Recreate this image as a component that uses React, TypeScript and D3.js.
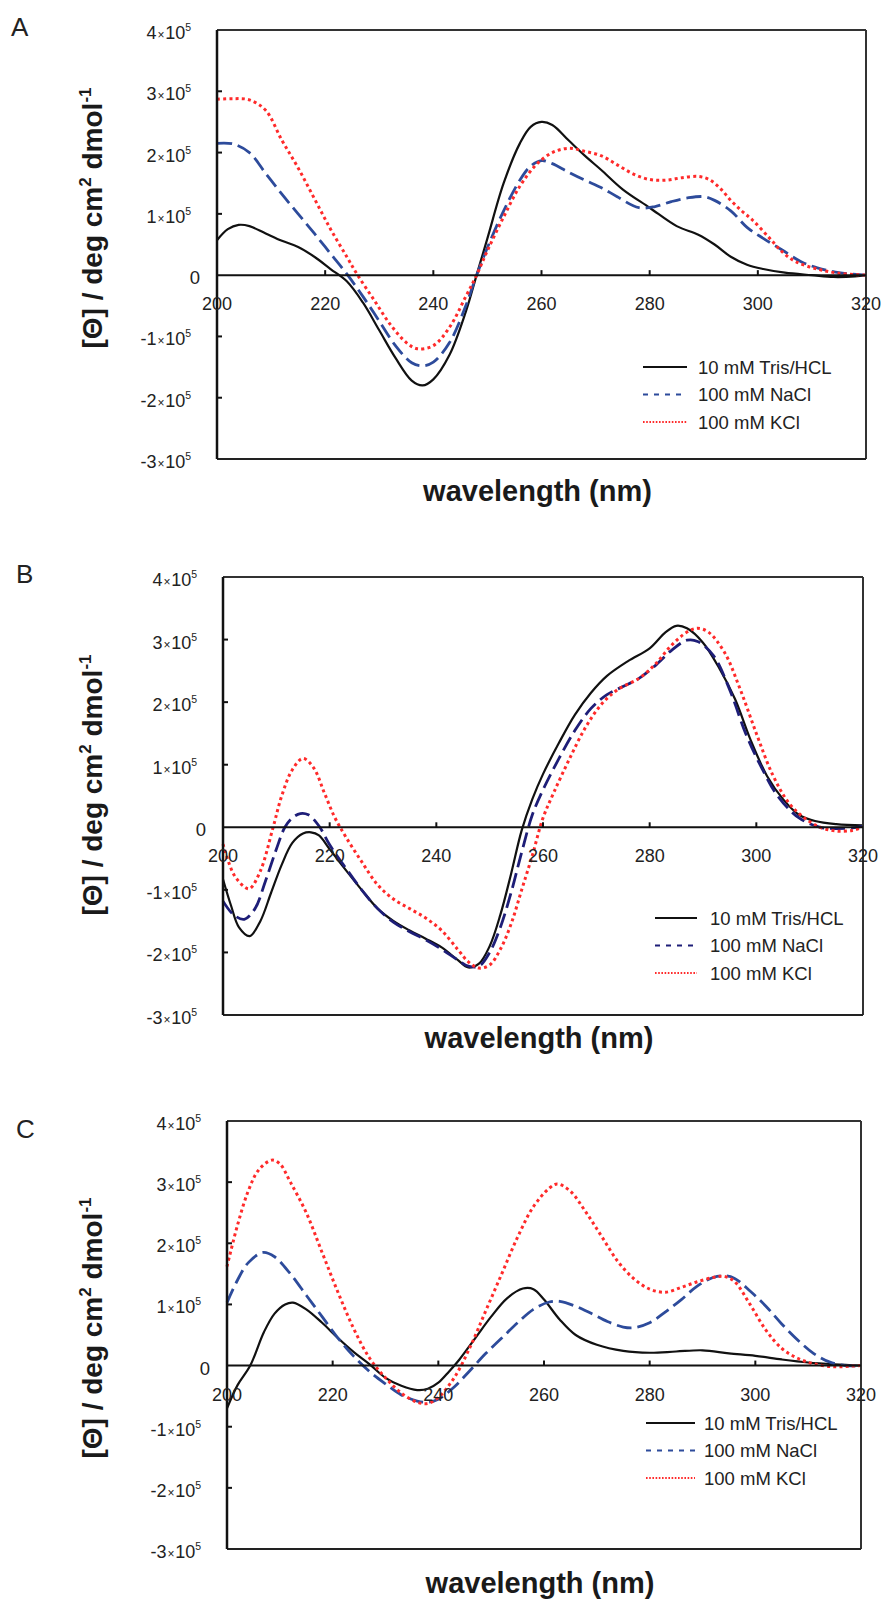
import React from 'react';
import * as d3 from 'd3';

type Pt = [number, number];

// wavelength (nm), molar ellipticity in units of 1e5 deg cm2 dmol-1
const A_TRIS: Pt[] = [[200,0.57],[202,0.75],[204,0.82],[206,0.8],[209,0.68],[212,0.56],[215,0.46],[218,0.3],[221,0.1],[224,-0.1],[227,-0.45],[230,-0.9],[233,-1.35],[236,-1.72],[238,-1.8],[240,-1.7],[243,-1.3],[246,-0.6],[248,0],[250,0.6],[253,1.5],[256,2.15],[258,2.42],[260,2.5],[262,2.45],[265,2.2],[268,1.95],[271,1.72],[275,1.4],[280,1.1],[285,0.8],[289,0.66],[292,0.5],[295,0.3],[298,0.17],[301,0.1],[305,0.04],[310,0.0],[314,-0.03],[318,-0.02],[320,0]];
const A_NACL: Pt[] = [[200,2.15],[203,2.14],[206,2.0],[209,1.66],[212,1.32],[215,1.0],[218,0.68],[221,0.35],[224,0.02],[227,-0.35],[230,-0.75],[233,-1.15],[236,-1.43],[238,-1.48],[240,-1.42],[243,-1.1],[246,-0.5],[248,0],[250,0.45],[253,1.05],[256,1.55],[258,1.78],[260,1.87],[262,1.82],[265,1.68],[268,1.55],[271,1.43],[274,1.28],[278,1.1],[281,1.12],[284,1.2],[287,1.26],[290,1.28],[292,1.22],[295,1.05],[298,0.78],[301,0.6],[304.5,0.41],[308,0.22],[311,0.12],[315,0.04],[320,0]];
const A_KCL: Pt[] = [[200,2.87],[203,2.88],[206,2.86],[209,2.69],[212,2.2],[215,1.75],[218,1.25],[221,0.75],[224,0.3],[226,0],[229,-0.4],[232,-0.8],[235,-1.1],[237,-1.2],[240,-1.15],[243,-0.85],[246,-0.35],[248,0],[250,0.4],[253,0.95],[256,1.45],[259,1.8],[262,2.0],[265,2.07],[268,2.02],[271,1.95],[274,1.8],[277,1.65],[280,1.56],[283,1.55],[286,1.59],[289,1.61],[291,1.56],[293,1.42],[295,1.22],[297,1.05],[299,0.9],[302,0.62],[304.5,0.38],[307,0.22],[311,0.1],[315,0.03],[320,0]];

const B_TRIS: Pt[] = [[200,-0.83],[201.5,-1.25],[203,-1.6],[205,-1.74],[207,-1.5],[209,-1.05],[211,-0.6],[213,-0.25],[215,-0.1],[216.5,-0.08],[218,-0.13],[220,-0.35],[223,-0.68],[226,-1.0],[229,-1.3],[232,-1.5],[235,-1.65],[238,-1.78],[241,-1.92],[244,-2.12],[246,-2.24],[248,-2.18],[250,-1.9],[252,-1.4],[254,-0.75],[256,-0.05],[258,0.45],[260,0.85],[263,1.35],[266,1.8],[269,2.15],[272,2.42],[276,2.66],[280,2.86],[283,3.12],[285,3.22],[287,3.18],[290,2.95],[293,2.55],[296,2.05],[299,1.38],[302,0.82],[305,0.45],[308,0.2],[311,0.1],[315,0.05],[320,0.03]];
const B_NACL: Pt[] = [[200,-1.18],[202,-1.4],[204,-1.47],[206,-1.3],[208,-0.85],[210,-0.35],[211.6,0],[213,0.15],[214.5,0.22],[216,0.2],[218,0.02],[220,-0.28],[223,-0.65],[226,-1.0],[229,-1.3],[232,-1.52],[235,-1.67],[238,-1.8],[241,-1.95],[244,-2.12],[246,-2.22],[248,-2.22],[250,-2.0],[252,-1.6],[254,-1.05],[256,-0.4],[258,0.2],[260,0.6],[263,1.1],[266,1.55],[269,1.9],[272,2.12],[275,2.25],[278,2.38],[281,2.58],[284,2.82],[287,2.99],[289,2.97],[292,2.74],[295,2.2],[298,1.5],[301,0.95],[304,0.5],[308,0.15],[312,0.0],[315,-0.02],[318,-0.01],[320,0.02]];
const B_KCL: Pt[] = [[200,-0.27],[202,-0.75],[204,-0.95],[205,-0.98],[207,-0.7],[209.4,0],[211,0.5],[213,0.92],[215,1.1],[217,0.95],[219,0.55],[221,0.15],[223,-0.15],[226,-0.55],[229,-0.92],[232,-1.15],[235,-1.3],[238,-1.45],[241,-1.65],[244,-1.95],[246,-2.15],[248,-2.25],[250,-2.2],[252,-1.95],[254,-1.55],[256,-1.0],[258,-0.45],[260,0.15],[262,0.55],[265,1.1],[268,1.6],[271,1.97],[274,2.2],[278,2.38],[281,2.6],[284,2.9],[287,3.12],[289,3.18],[291,3.12],[294,2.8],[297,2.2],[300,1.5],[303,0.85],[306,0.4],[309,0.15],[312,0.0],[315,-0.06],[318,-0.05],[320,0.0]];

const C_TRIS: Pt[] = [[200,-0.7],[202,-0.32],[204.4,0],[207,0.55],[209,0.85],[211,1.0],[212.5,1.03],[215,0.92],[218,0.7],[221,0.45],[224,0.22],[227,0.02],[230,-0.2],[233,-0.33],[236,-0.4],[238,-0.38],[240,-0.28],[242,-0.1],[244,0.1],[247,0.45],[250,0.8],[253,1.1],[256,1.26],[258,1.25],[260,1.08],[263,0.75],[266,0.5],[270,0.34],[275,0.24],[280,0.21],[285,0.23],[290,0.25],[295,0.2],[300,0.16],[305,0.1],[310,0.05],[315,0.02],[320,0]];
const C_NACL: Pt[] = [[200,1.03],[202,1.4],[204,1.68],[206.8,1.85],[209,1.78],[212,1.5],[215,1.15],[218,0.8],[221,0.45],[224,0.15],[227,-0.1],[230,-0.3],[233,-0.48],[236,-0.58],[238,-0.6],[240,-0.55],[243,-0.35],[246,-0.08],[249,0.2],[252,0.45],[255,0.7],[258,0.92],[261,1.04],[263,1.05],[266,0.97],[269,0.85],[272,0.72],[275,0.63],[277,0.62],[280,0.7],[283,0.88],[286,1.08],[289,1.3],[292,1.44],[294,1.47],[296,1.43],[299,1.22],[302,0.97],[305,0.68],[308.5,0.38],[311,0.2],[314,0.06],[317,0.0],[320,0]];
const C_KCL: Pt[] = [[200,1.62],[202,2.3],[204,2.85],[206,3.2],[208.5,3.36],[210,3.3],[212,3.0],[215,2.5],[218,1.85],[221,1.2],[224,0.6],[227,0.12],[230,-0.2],[233,-0.45],[236,-0.6],[238,-0.62],[240,-0.52],[243,-0.2],[246,0.3],[249,0.9],[252,1.5],[255,2.1],[258,2.6],[261,2.9],[262.5,2.97],[265,2.85],[268,2.5],[271,2.1],[274,1.7],[277,1.42],[280,1.25],[283,1.2],[286,1.28],[289,1.37],[292,1.44],[294,1.46],[296,1.38],[299,1.0],[302,0.58],[305,0.28],[308,0.12],[311,0.03],[315,-0.02],[318,-0.01],[320,0]];

const SERIES_NAMES = ['10 mM Tris/HCL', '100 mM NaCl', '100 mM KCl'];
const X_TICKS = [200, 220, 240, 260, 280, 300, 320];
const Y_TICKS = [-3, -2, -1, 0, 1, 2, 3, 4];
const X_DOMAIN: [number, number] = [200, 320];
const Y_DOMAIN: [number, number] = [-3, 4];

const FONT = '"Liberation Sans", Arial, Helvetica, sans-serif';
const RED = '#ff2a2a';

interface Panel {
  letter: string;
  letterX: number; letterY: number;
  left: number; right: number; top: number; bottom: number;
  blue: string;
  data: Pt[][];
  legX0: number; legX1: number; legTextX: number; legY0: number;
  yTitleCY: number; xTitleY: number;
}

const PANELS: Panel[] = [
  { letter: 'A', letterX: 11, letterY: 36, left: 217, right: 866, top: 30, bottom: 459, blue: '#2d4b9b',
    data: [A_TRIS, A_NACL, A_KCL], legX0: 643, legX1: 687, legTextX: 698, legY0: 367, yTitleCY: 218, xTitleY: 501 },
  { letter: 'B', letterX: 16, letterY: 583, left: 223, right: 863, top: 577, bottom: 1015, blue: '#1e1e78',
    data: [B_TRIS, B_NACL, B_KCL], legX0: 655, legX1: 697, legTextX: 710, legY0: 918, yTitleCY: 785, xTitleY: 1048 },
  { letter: 'C', letterX: 16, letterY: 1138, left: 227, right: 861, top: 1121, bottom: 1549, blue: '#2d4b9b',
    data: [C_TRIS, C_NACL, C_KCL], legX0: 646, legX1: 695, legTextX: 704, legY0: 1423, yTitleCY: 1328, xTitleY: 1593 },
];

function YTickLabel({ v, x, y }: { v: number; x: number; y: number }) {
  if (v === 0) {
    return <text x={x + 9} y={y + 9} textAnchor="end" fontSize={18.5} fill="#222">0</text>;
  }
  const sign = v < 0 ? '-' : '';
  return (
    <text x={x} y={y + 9} textAnchor="end" fontSize={18} fill="#222">
      <tspan>{sign + Math.abs(v)}</tspan>
      <tspan fontSize={12} dx={1}>×</tspan>
      <tspan fontSize={18} dx={0.5}>10</tspan>
      <tspan fontSize={10.5} dy={-8}>5</tspan>
    </text>
  );
}

function PanelView({ p }: { p: Panel }) {
  const x = d3.scaleLinear().domain(X_DOMAIN).range([p.left, p.right]);
  const y = d3.scaleLinear().domain(Y_DOMAIN).range([p.bottom, p.top]);
  const line = d3.line<Pt>().x(d => x(d[0])).y(d => y(d[1])).curve(d3.curveCatmullRom.alpha(0.5));
  const styles = [
    { stroke: '#111', width: 2.2, dash: undefined as string | undefined, legDash: undefined as string | undefined, legW: 2 },
    { stroke: p.blue, width: 2.8, dash: '15 6', legDash: '5 6', legW: 2.2 },
    { stroke: RED, width: 3, dash: '3 3.2', legDash: '1.6 1.6', legW: 2 },
  ];
  const y0 = y(0);
  return (
    <g>
      <text x={p.letterX} y={p.letterY} fontSize={26} fill="#222">{p.letter}</text>
      {p.data.map((d, i) => (
        <path key={i} d={line(d) || ''} fill="none" stroke={styles[i].stroke} strokeWidth={styles[i].width}
          strokeDasharray={styles[i].dash} strokeLinejoin="round" />
      ))}
      <line x1={p.left} x2={p.right} y1={p.top} y2={p.top} stroke="#333" strokeWidth={2} />
      <line x1={p.right} x2={p.right} y1={p.top} y2={p.bottom} stroke="#333" strokeWidth={2} />
      <line x1={p.left} x2={p.right} y1={p.bottom} y2={p.bottom} stroke="#222" strokeWidth={2.2} />
      <line x1={p.left} x2={p.left} y1={p.top} y2={p.bottom} stroke="#111" strokeWidth={2.5} />
      <line x1={p.left} x2={p.right} y1={y0} y2={y0} stroke="#111" strokeWidth={2} />
      {Y_TICKS.map(v => (
        <g key={v}>
          {v !== Y_DOMAIN[0] && v !== Y_DOMAIN[1] && v !== 0 && (
            <line x1={p.left} x2={p.left + 5} y1={y(v)} y2={y(v)} stroke="#111" strokeWidth={2} />
          )}
          <YTickLabel v={v} x={p.left - 26} y={y(v)} />
        </g>
      ))}
      {X_TICKS.map(t => (
        <g key={t}>
          {t !== X_DOMAIN[0] && t !== X_DOMAIN[1] && (
            <line x1={x(t)} x2={x(t)} y1={y0} y2={y0 - 5} stroke="#111" strokeWidth={2} />
          )}
          <text x={x(t)} y={y0 + 35} textAnchor="middle" fontSize={18} fill="#222">{t}</text>
        </g>
      ))}
      {SERIES_NAMES.map((n, i) => {
        const ly = p.legY0 + i * 27.5;
        return (
          <g key={n}>
            <line x1={p.legX0} x2={p.legX1} y1={ly} y2={ly} stroke={styles[i].stroke} strokeWidth={styles[i].legW}
              strokeDasharray={styles[i].legDash} />
            <text x={p.legTextX} y={ly + 6.5} fontSize={18.5} fill="#222">{n}</text>
          </g>
        );
      })}
      <text x={(p.left + p.right) / 2 - 4} y={p.xTitleY} textAnchor="middle" fontSize={29} fontWeight="bold" fill="#1a1a1a">
        wavelength (nm)
      </text>
      <text transform={`translate(${102},${p.yTitleCY}) rotate(-90)`} textAnchor="middle" fontSize={28} fontWeight="bold" fill="#1a1a1a">
        <tspan>[Θ] / deg cm</tspan>
        <tspan fontSize={17} dy={-11}>2</tspan>
        <tspan dy={11}> dmol</tspan>
        <tspan fontSize={17} dy={-11}>-1</tspan>
      </text>
    </g>
  );
}

export default function App() {
  return (
    <div style={{ position: 'absolute', left: 0, top: 0, width: 885, height: 1602, background: '#fff' }}>
      <svg width={885} height={1602} style={{ display: 'block', fontFamily: FONT }}>
        <rect x={0} y={0} width={885} height={1602} fill="#fff" />
        {PANELS.map(p => <PanelView key={p.letter} p={p} />)}
      </svg>
    </div>
  );
}
